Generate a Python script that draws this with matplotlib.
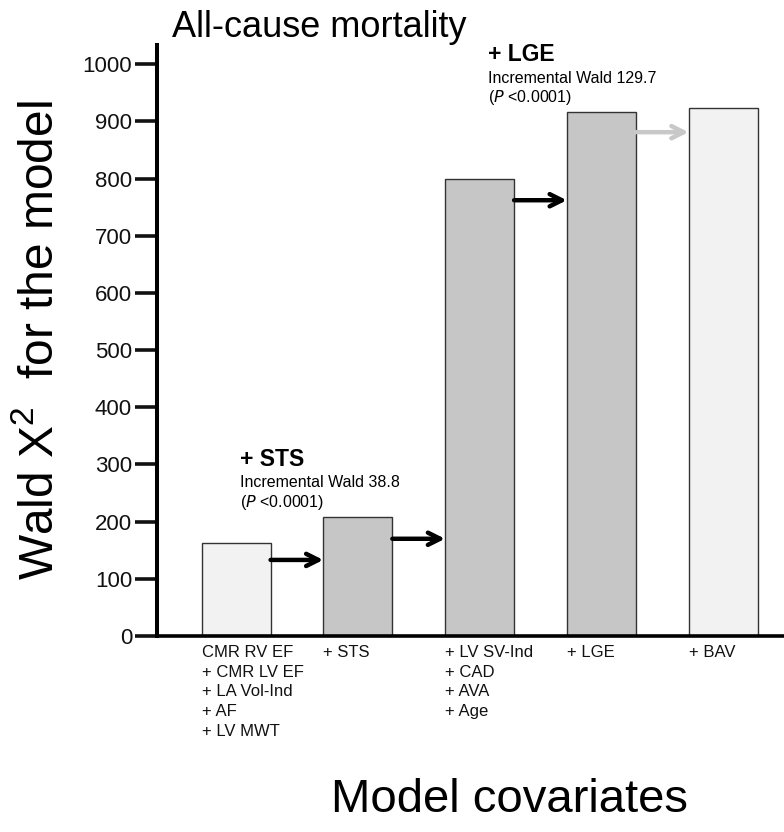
import numpy as np
import matplotlib
matplotlib.use("Agg")
import matplotlib.pyplot as plt

plt.rcParams['font.family'] = ['Liberation Sans', 'DejaVu Sans']
plt.rcParams['mathtext.default'] = 'regular'

# Model steps and Wald chi-square values
step_labels = [
    "CMR RV EF\n+ CMR LV EF\n+ LA Vol-Ind\n+ AF\n+ LV MWT",
    "+ STS",
    "+ LV SV-Ind\n+ CAD\n+ AVA\n+ Age",
    "+ LGE",
    "+ BAV",
]
wald_values = [163, 208, 799, 916, 923]
bar_colors = ["#f2f2f2", "#c6c6c6", "#c6c6c6", "#c6c6c6", "#f2f2f2"]

# arrows between consecutive bars (height on the y scale, colour)
arrow_heights = [133, 170, 762, 881]
arrow_colors = ["black", "black", "black", "#c8c8c8"]

yticks = np.arange(0, 1001, 100)
bar_width = 0.567

fig = plt.figure(figsize=(7.84, 8.32), dpi=100)
ax = fig.add_axes([0.2003, 0.2356, 0.7997, 0.710])

x = np.arange(len(wald_values))
ax.bar(x, wald_values, width=bar_width, color=bar_colors,
       edgecolor="#333333", linewidth=1.0, zorder=2)

# step arrows from the right edge of one bar to the left edge of the next
for i, (h, c) in enumerate(zip(arrow_heights, arrow_colors)):
    ax.annotate("", xy=(x[i + 1] - bar_width / 2, h),
                xytext=(x[i] + bar_width / 2, h),
                arrowprops=dict(arrowstyle="->", color=c, lw=3.2,
                                mutation_scale=22, shrinkA=0, shrinkB=0),
                zorder=3)

ax.set_xlim(-0.649, 4.5)
ax.set_ylim(0, 1033)
ax.set_yticks(yticks)
ax.set_yticklabels([str(v) for v in yticks], fontsize=16)
ax.tick_params(axis="y", length=16, width=2.6, direction="out", pad=2,
               colors="#111111")
ax.set_xticks([])

for s in ["top", "right"]:
    ax.spines[s].set_visible(False)
ax.spines["left"].set_linewidth(2.9)
ax.spines["bottom"].set_linewidth(2.6)

# multi-line category labels, left aligned at each bar's left edge
for xi, lab in zip(x, step_labels):
    ax.text(xi - bar_width / 2, -16, lab, ha="left", va="top",
            fontsize=12, linespacing=1.39, color="#111111")

# increment annotations
def add_note(xpos, ys, head, wald):
    ax.text(xpos, ys[0], head, fontsize=16.5, fontweight="bold",
            ha="left", va="center")
    ax.text(xpos, ys[1], "Incremental Wald " + wald, fontsize=11.5,
            ha="left", va="center")
    ax.text(xpos, ys[2], "(" + r"$\it{P}$" + " <0.0001)", fontsize=11.5,
            ha="left", va="center")

add_note(0.03, [309, 269, 234], "+ STS", "38.8")
add_note(2.07, [1016, 974, 941], "+ LGE", "129.7")

fig.text(0.2194, 0.967, "All-cause mortality", fontsize=26,
         ha="left", va="center")
fig.text(0.051, 0.591, "Wald X$^2$  for the model", fontsize=34.5,
         rotation=90, ha="center", va="center")
fig.text(0.65, 0.039, "Model covariates", fontsize=34,
         ha="center", va="center")

fig.savefig("out.png", dpi=100)
